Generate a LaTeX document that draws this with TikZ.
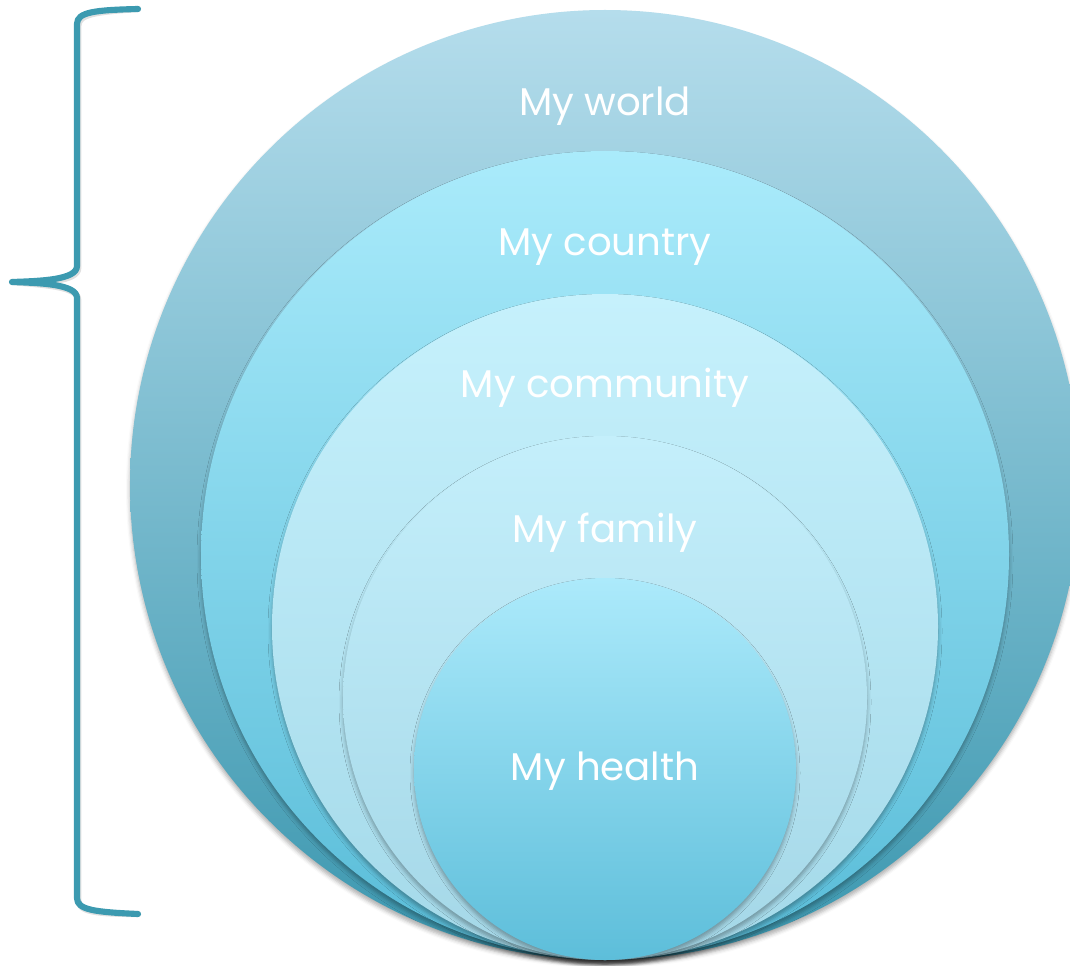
\documentclass[tikz,border=0pt]{standalone}
\usepackage{fontspec}
\newfontfamily\captionfont{Poppins}
\usetikzlibrary{shadows.blur}

\definecolor{braceblue}{HTML}{3C9AB0}
\definecolor{worldtop}{HTML}{B5DDEC}
\definecolor{worldbot}{HTML}{3B97AF}
\definecolor{countrytop}{HTML}{AAEBFB}
\definecolor{countrybot}{HTML}{58BCD8}
\definecolor{communitytop}{HTML}{C6F1FC}
\definecolor{communitybot}{HTML}{A4D9E9}
\definecolor{familytop}{HTML}{C4EFFB}
\definecolor{familybot}{HTML}{A4D7E7}
\definecolor{healthtop}{HTML}{ACEAFB}
\definecolor{healthbot}{HTML}{5DBEDA}

\tikzset{
  ring/.style={circle, draw=none, inner sep=0pt, outer sep=0pt,
    blur shadow={shadow xshift=0pt, shadow yshift=-3pt,
      shadow blur radius=3pt, shadow opacity=32}},
  label/.style={text=white, font=\captionfont\fontsize{29}{34}\selectfont,
    inner sep=0pt},
  bracepath/.style={draw=braceblue, line width=4.6pt, line cap=round,
    line join=round},
}

\begin{document}
\begin{tikzpicture}[x=0.75pt, y=-0.75pt]
  \useasboundingbox (0,0) rectangle (1070,966);

  % nested circles, all touching at the bottom
  \node[ring, minimum size=712.5pt, top color=worldtop, bottom color=worldbot]
    (world) at (605,485) {};
  \node[ring, minimum size=606pt, top color=countrytop, bottom color=countrybot]
    (country) at (605,555) {};
  \node[ring, minimum size=499.5pt, top color=communitytop, bottom color=communitybot]
    (community) at (605,627) {};
  \node[ring, minimum size=393pt, top color=familytop, bottom color=familybot]
    (family) at (605,698) {};
  \node[ring, minimum size=286.5pt, top color=healthtop, bottom color=healthbot]
    (health) at (605,769) {};

  % captions
  \node[label] (tworld) at (605,106) {My world};
  \node[label] (tcountry) at (605,247) {My country};
  \node[label] (tcommunity) at (605,388) {My community};
  \node[label] (tfamily) at (605,533) {My family};
  \node[label] (thealth) at (605,771) {My health};

  % curly brace on the left
  \coordinate (btop) at (138,9);
  \coordinate (btip) at (12,282);
  \coordinate (bbot) at (138,914);
  \begin{scope}[xshift=1pt, yshift=-1.5pt]
    \draw[bracepath, draw=black, opacity=0.12]
      (btop) .. controls (95,10) and (77,12) .. (77,24)
      -- (77,266) .. controls (77,280) and (40,281) .. (btip)
      .. controls (40,283) and (77,284) .. (77,298)
      -- (77,898) .. controls (77,910) and (95,912) .. (bbot);
  \end{scope}
  \draw[bracepath]
    (btop) .. controls (95,10) and (77,12) .. (77,24)
    -- (77,266) .. controls (77,280) and (40,281) .. (btip)
    .. controls (40,283) and (77,284) .. (77,298)
    -- (77,898) .. controls (77,910) and (95,912) .. (bbot);
\end{tikzpicture}
\end{document}
